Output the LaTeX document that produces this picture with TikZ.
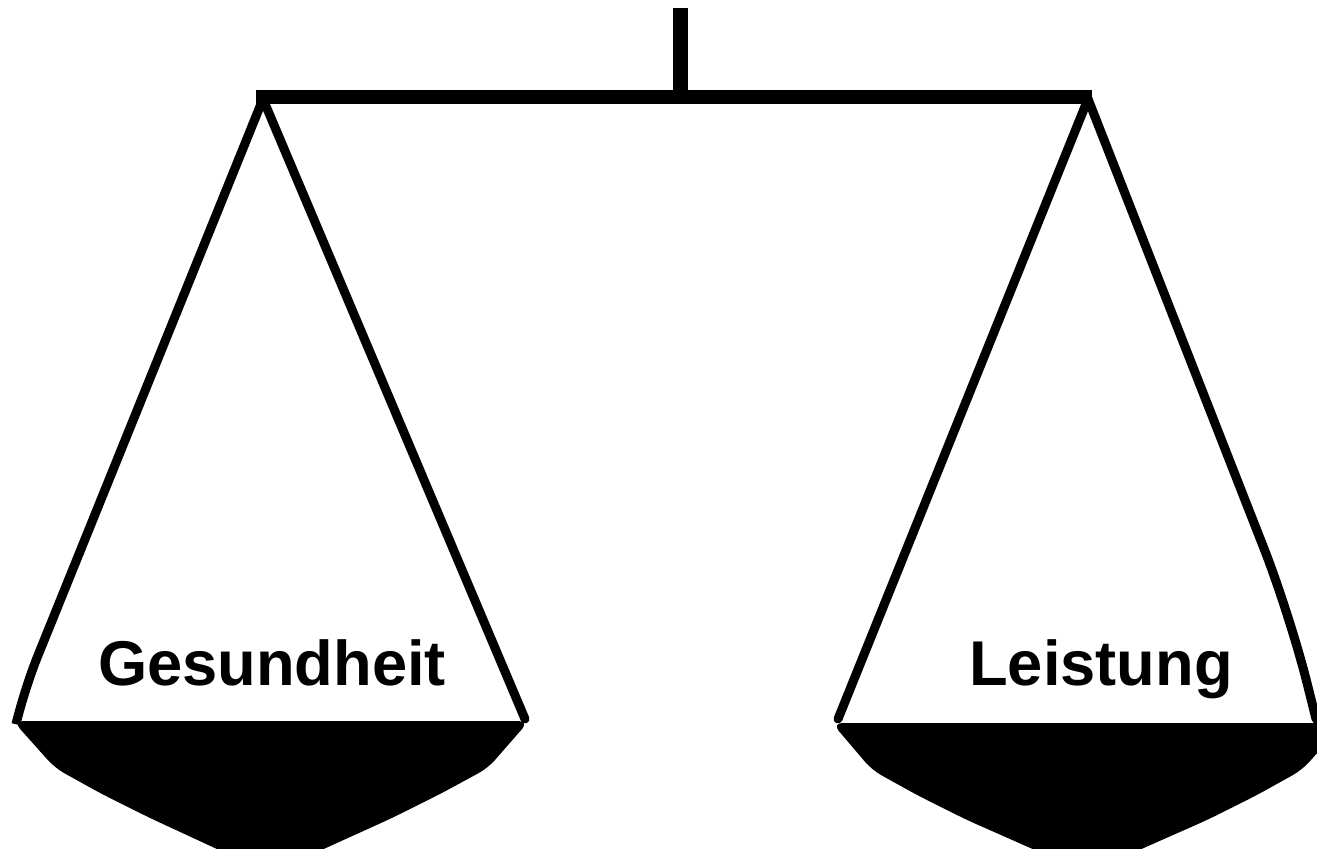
\documentclass[tikz,border=0pt]{standalone}
\usepackage{fontspec}
\setmainfont{Liberation Sans}
\begin{document}
\begin{tikzpicture}[x=0.02cm,y=-0.02cm,
  beam/.style={line width=14*0.02cm, line cap=butt},
  cord/.style={line width=9*0.02cm, line join=miter, line cap=round},
  bowl/.style={fill=black, draw=none, rounded corners=6pt},
  label/.style={font=\bfseries\fontsize{36}{40}\selectfont, anchor=base, inner sep=0pt}]
\useasboundingbox (0,0) rectangle (1317,848);
\clip (0,0) rectangle (1317,848);
% stand and beam
\coordinate (top) at (680,8);
\coordinate (pivot) at (680,97);
\coordinate (bl) at (256,97);
\coordinate (br) at (1092,97);
\draw[line width=15*0.02cm] (top) -- (pivot);
\draw[beam] (bl) -- (br);
% left pan
\coordinate (la) at (263,99);
\coordinate (ll) at (17,720);
\coordinate (lr) at (525,719);
\draw[cord] (la) -- (lr);
\draw[cord, rounded corners=20pt] (la) -- (24,690) -- (ll);
\fill[bowl] (13,721) -- (529,721) -- (488,768) -- (442,793) -- (392,818)
  -- (295,862) -- (245,862) -- (150,818) -- (100,793) -- (55,768) -- cycle;
\node[label] (gesund) at (272,685) {Gesundheit};
% right pan
\coordinate (ra) at (1088,99);
\coordinate (rl) at (838,719);
\coordinate (rr) at (1316,719);
\draw[cord] (ra) -- (rl);
\draw[cord, rounded corners=40pt] (ra) -- (1290,615) -- (rr);
\fill[bowl] (832,723) -- (1344,723) -- (1302,770) -- (1257,795) -- (1207,820)
  -- (1112,862) -- (1062,862) -- (967,820) -- (917,795) -- (872,770) -- cycle;
\node[label] (leist) at (1101,685) {Leistung};
\end{tikzpicture}
\end{document}
